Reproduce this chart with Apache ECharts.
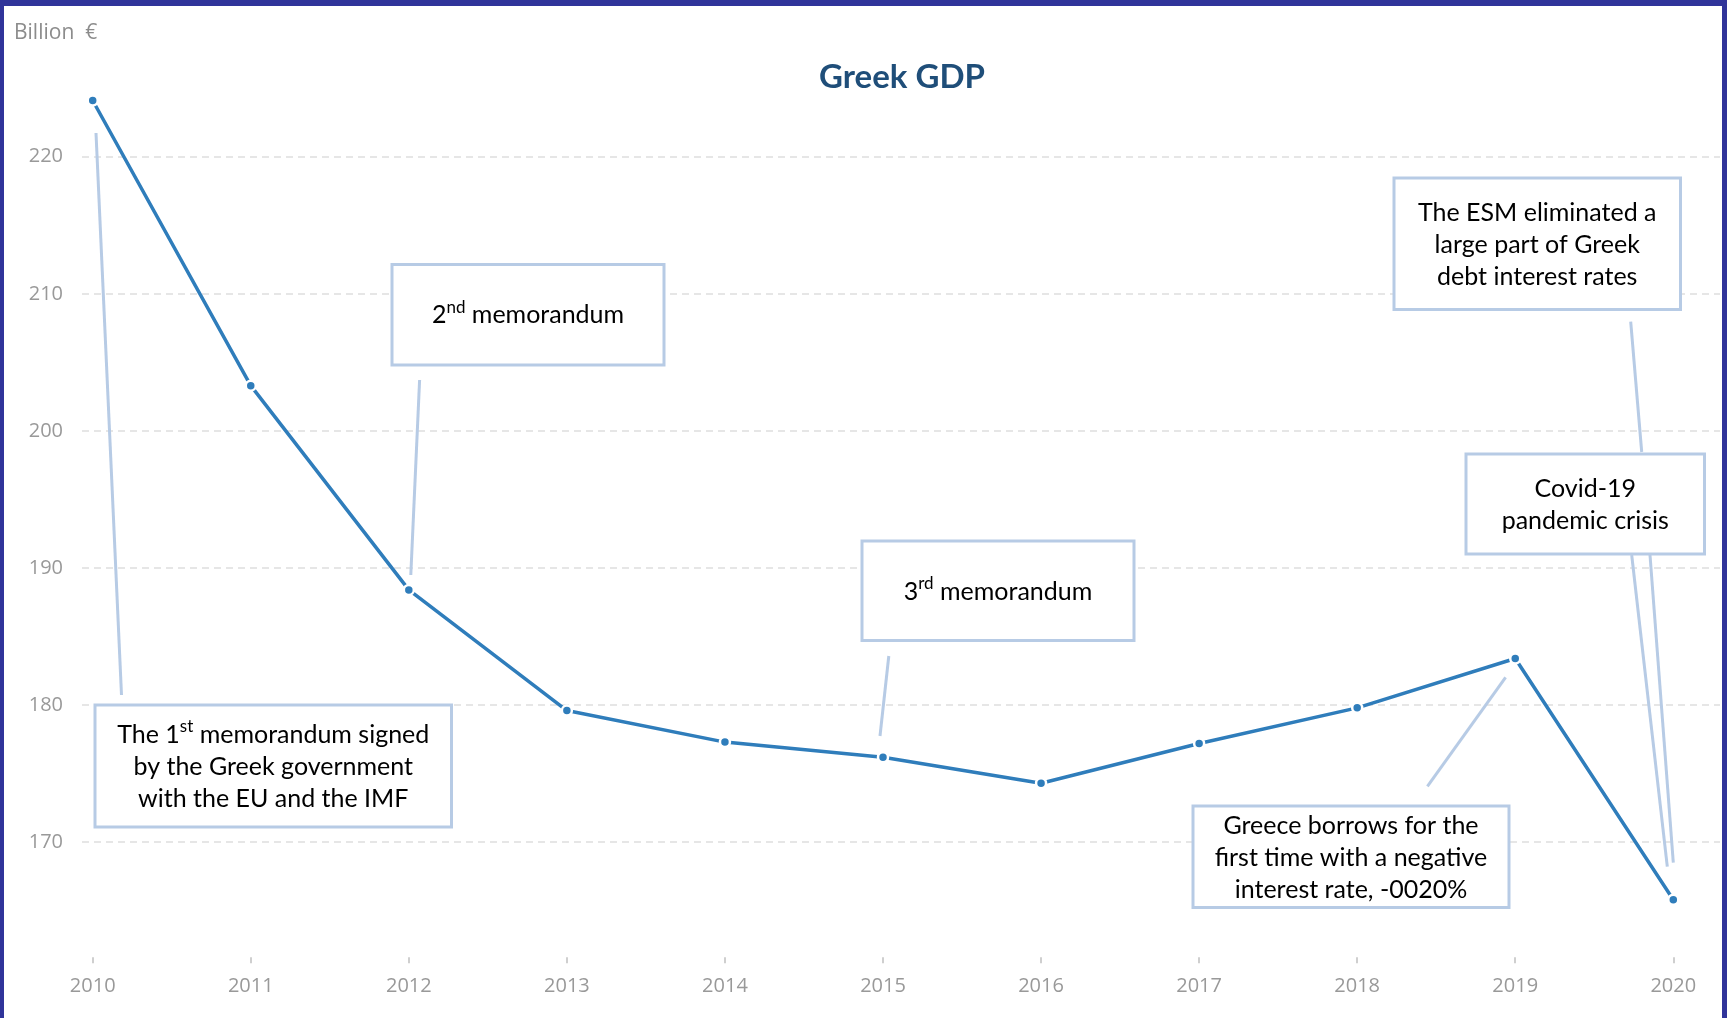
<!DOCTYPE html>
<html>
<head>
<meta charset="utf-8">
<script src="https://cdn.jsdelivr.net/npm/echarts@6/dist/echarts.min.js"></script>
<style>
html,body{margin:0;padding:0;background:#fff;}
#chart{width:1727px;height:1018px;}
</style>
</head>
<body>
<div id="chart"></div>
<script>
// ---- data ----
const years = ['2010','2011','2012','2013','2014','2015','2016','2017','2018','2019','2020'];
const gdp = [224.1, 203.3, 188.4, 179.6, 177.3, 176.2, 174.3, 177.2, 179.8, 183.4, 165.8];
const yMin = 160;
const yMax = 230;
const yStep = 10;
const titleText = 'Greek GDP';
const unitText = 'Billion  €';
// ^x^ marks superscript
const noteTexts = [
  'The 1^st^ memorandum signed\nby the Greek government\nwith the EU and the IMF',
  '2^nd^ memorandum',
  '3^rd^ memorandum',
  'Greece borrows for the\nfirst time with a negative\ninterest rate, -0020%',
  'The ESM eliminated a\nlarge part of Greek\ndebt interest rates',
  'Covid-19\npandemic crisis'
];

// ---- layout (annotation boxes & leaders, pixels) ----
const noteBoxes = [
  {x: 95,   y: 705,   w: 356.5, h: 122,   cy: 766.5},
  {x: 392,  y: 264.5, w: 272,   h: 100.5, cy: 315},
  {x: 862,  y: 541,   w: 272,   h: 99.5,  cy: 591.5},
  {x: 1193, y: 806,   w: 316,   h: 101.5, cy: 858},
  {x: 1394, y: 178,   w: 286.5, h: 131.5, cy: 245},
  {x: 1466, y: 454,   w: 238.5, h: 100,   cy: 505}
];
const leaders = [
  [96, 133, 121.5, 695],
  [419.6, 380, 410.8, 575],
  [888.8, 656, 880, 736],
  [1427.4, 786.4, 1505.6, 677.4],
  [1630.7, 321.7, 1641.7, 452],
  [1631.7, 555, 1667.3, 866.7],
  [1650, 555, 1673.3, 862.7]
];

function toRich(t) {
  return t.split('\n').map(line =>
    '{n|' + line.replace(/\^(.+?)\^/g, '}{s|$1}{n|') + '}'
  ).join('\n');
}

const noteFont = 'Lato';
const graphics = [];
noteBoxes.forEach((b, i) => {
  graphics.push({
    type: 'rect', z: 10,
    shape: {x: b.x, y: b.y, width: b.w, height: b.h},
    style: {fill: '#ffffff', stroke: '#b7cbe5', lineWidth: 3}
  });
  graphics.push({
    type: 'text', z: 11,
    x: b.x + b.w / 2, y: b.cy,
    style: {
      text: toRich(noteTexts[i]),
      align: 'center', verticalAlign: 'middle',
      fill: '#000',
      rich: {
        n: {fontFamily: noteFont, fontSize: 25, lineHeight: 32, fill: '#000'},
        s: {fontFamily: noteFont, fontSize: 17, lineHeight: 21, verticalAlign: 'top', fill: '#000'}
      }
    }
  });
});
leaders.forEach(l => {
  graphics.push({
    type: 'line', z: 9,
    shape: {x1: l[0], y1: l[1], x2: l[2], y2: l[3]},
    style: {stroke: '#b7cbe5', lineWidth: 3}
  });
});
// frame
const frameColor = '#30349a';
graphics.push({type: 'rect', z: 100, shape: {x: 0, y: 0, width: 1727, height: 6}, style: {fill: frameColor}});
graphics.push({type: 'rect', z: 100, shape: {x: 0, y: 0, width: 4, height: 1018}, style: {fill: frameColor}});
graphics.push({type: 'rect', z: 100, shape: {x: 1722, y: 0, width: 5, height: 1018}, style: {fill: frameColor}});

const chart = echarts.init(document.getElementById('chart'), null, {renderer: 'canvas'});
const option = {
  animation: false,
  backgroundColor: '#ffffff',
  title: [
    {
      text: titleText, left: 902, top: 61, textAlign: 'center', padding: 0,
      textStyle: {fontFamily: 'Lato', fontWeight: 'bold', fontSize: 33, color: '#1f4e79'}
    },
    {
      text: unitText, left: 14, top: 23, padding: 0,
      textStyle: {fontFamily: 'Open Sans', fontWeight: 'normal', fontSize: 21, color: '#8c8c8c'}
    }
  ],
  grid: [
    {left: 92.7, right: 53.7, top: 19.6, bottom: 38.7, containLabel: false},
    {left: 82, right: 7, top: 19.6, bottom: 38.7, containLabel: false}
  ],
  xAxis: [
    {
      type: 'category', gridIndex: 0, data: years, boundaryGap: false, offset: -22,
      axisLine: {show: false},
      axisTick: {show: true, length: 6, lineStyle: {color: '#cfcfcf', width: 2}},
      axisLabel: {margin: 19, color: '#999999', fontFamily: 'Open Sans', fontSize: 20},
      splitLine: {show: false}
    },
    {type: 'value', gridIndex: 1, show: false, min: 0, max: 1}
  ],
  yAxis: [
    {type: 'value', gridIndex: 0, min: yMin, max: yMax, interval: yStep, show: false, splitLine: {show: false}},
    {
      type: 'value', gridIndex: 1, min: yMin, max: yMax, interval: yStep,
      axisLine: {show: false}, axisTick: {show: false},
      axisLabel: {margin: 19, color: '#999999', fontFamily: 'Open Sans', fontSize: 20, showMinLabel: false, showMaxLabel: false},
      splitLine: {show: true, showMinLine: false, showMaxLine: false, lineStyle: {color: '#e6e6e6', width: 2, type: [7, 5]}}
    }
  ],
  series: [
    {
      type: 'line', xAxisIndex: 0, yAxisIndex: 0, data: gdp,
      symbol: 'circle', symbolSize: 10, showAllSymbol: true,
      lineStyle: {color: '#2f7dbb', width: 3.5},
      itemStyle: {color: '#2f7dbb', borderColor: '#ffffff', borderWidth: 2.5},
      z: 3
    }
  ],
  graphic: graphics
};
chart.setOption(option);
</script>
</body>
</html>
